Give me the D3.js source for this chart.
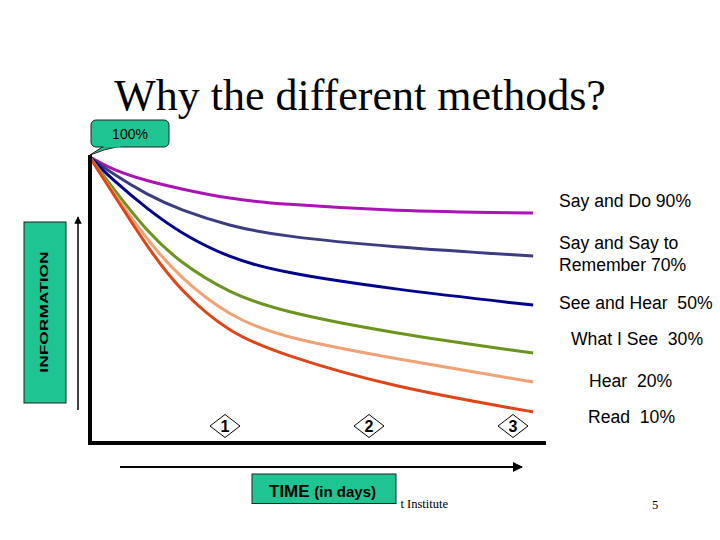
<!DOCTYPE html>
<html>
<head>
<meta charset="utf-8">
<script src="https://cdn.jsdelivr.net/npm/d3@7"></script>
<style>
  body { margin: 0; background: #fff; }
  svg { display: block; }
  text { white-space: pre; }
</style>
</head>
<body>
<div id="chart"></div>
<script>
// Retention curves: time in days, information retained (%)
const days = [0.06, 0.22, 0.46, 0.69, 1.03, 1.38, 2.15, 3.14];

const sayDo       = [99.3, 94.8, 90.9, 88.2, 84.7, 82.9, 80.5, 79.8];
const sayRemember = [99.3, 93.4, 86.1, 80.8, 75.3, 71.8, 67.9, 64.8];
const seeHear     = [99.3, 91.3, 81.2, 72.8, 64.1, 59.2, 53.3, 47.7];
const whatISee    = [99.3, 88.5, 73.2, 62.4, 51.9, 45.6, 38.0, 31.0];
const hear        = [99.3, 87.1, 70.4, 57.1, 43.9, 36.6, 29.3, 20.9];
const read        = [99.3, 86.8, 67.9, 52.6, 38.0, 30.7, 19.2, 10.5];

const seriesValues = [sayDo, sayRemember, seeHear, whatISee, hear, read];
const seriesLabels = [
    ['Say and Do 90%'],
    ['Say and Say to', 'Remember 70%'],
    ['See and Hear  50%'],
    ['What I See  30%'],
    ['Hear  20%'],
    ['Read  10%']
];
const dayTicks = [1, 2, 3];

const colors = ['#aa14b4', '#3c3c80', '#00008c', '#6b9421', '#f0a274', '#de4618'];
const teal = '#1ec592';

const width = 720, height = 540;
const svg = d3.select('#chart').append('svg')
    .attr('width', width)
    .attr('height', height);

const x = d3.scaleLinear().domain([0, 3]).range([81, 513]);
const y = d3.scaleLinear().domain([0, 100]).range([442, 155]);

// Title
svg.append('text')
    .attr('x', 360).attr('y', 110)
    .attr('text-anchor', 'middle')
    .style('font-family', '"Liberation Serif", "Times New Roman", serif')
    .style('font-size', '44px')
    .text('Why the different methods?');

// Curves
const line = d3.line()
    .x((d, i) => x(days[i]))
    .y(d => y(d))
    .curve(d3.curveBasis);

svg.selectAll('path.curve')
    .data(seriesValues)
    .enter()
    .append('path')
    .attr('class', 'curve')
    .attr('d', line)
    .attr('fill', 'none')
    .attr('stroke', (d, i) => colors[i])
    .attr('stroke-width', 3);

// Axes (plain thick lines as in the slide)
svg.append('line')
    .attr('x1', 90).attr('x2', 90)
    .attr('y1', y(100)).attr('y2', y(0) + 3)
    .attr('stroke', '#000').attr('stroke-width', 4);
svg.append('line')
    .attr('x1', 88).attr('x2', 546)
    .attr('y1', y(0) + 1).attr('y2', y(0) + 1)
    .attr('stroke', '#000').attr('stroke-width', 4);

// Day markers
const tick = svg.selectAll('g.day')
    .data(dayTicks)
    .enter()
    .append('g')
    .attr('class', 'day')
    .attr('transform', d => `translate(${x(d)},426)`);
tick.append('path')
    .attr('d', 'M-15,0 L0,-11.5 L15,0 L0,11.5 Z')
    .attr('fill', '#fff')
    .attr('stroke', '#000')
    .attr('stroke-width', 1);
tick.append('text')
    .attr('y', 6)
    .attr('text-anchor', 'middle')
    .style('font-family', '"Liberation Sans", Arial, sans-serif')
    .style('font-weight', 'bold')
    .style('font-size', '16px')
    .text(d => d);

// Series labels
const labelPos = [[559, 207], [559, 249], [559, 309], [571, 345], [589, 387], [588, 423]];
seriesLabels.forEach((lines, i) => {
    const t = svg.append('text')
        .attr('x', labelPos[i][0]).attr('y', labelPos[i][1])
        .style('font-family', '"Liberation Sans", Arial, sans-serif')
        .style('font-size', '17.6px')
        .attr('fill', '#000');
    lines.forEach((s, j) => {
        t.append('tspan')
            .attr('x', labelPos[i][0])
            .attr('dy', j === 0 ? 0 : 22)
            .text(s);
    });
});

// 100% callout
svg.append('path')
    .attr('d', 'M104,146 L90,155 Q104,149 121,146')
    .attr('fill', teal)
    .attr('stroke', '#222')
    .attr('stroke-width', 1);
svg.append('rect')
    .attr('x', 91).attr('y', 120)
    .attr('width', 78).attr('height', 27)
    .attr('rx', 5)
    .attr('fill', teal)
    .attr('stroke', '#222')
    .attr('stroke-width', 1);
svg.append('path')
    .attr('d', 'M103.5,146.5 L120.5,146.5')
    .attr('stroke', teal)
    .attr('stroke-width', 2);
svg.append('text')
    .attr('x', 130).attr('y', 139)
    .attr('text-anchor', 'middle')
    .style('font-family', '"Liberation Sans", Arial, sans-serif')
    .style('font-size', '14px')
    .text('100%');

// Arrow heads
const defs = svg.append('defs');
defs.append('marker')
    .attr('id', 'arrow')
    .attr('viewBox', '0 0 10 10')
    .attr('refX', 9).attr('refY', 5)
    .attr('markerWidth', 5).attr('markerHeight', 5)
    .attr('orient', 'auto')
    .append('path')
    .attr('d', 'M0,0 L10,5 L0,10 Z')
    .attr('fill', '#000');

// INFORMATION axis label
svg.append('line')
    .attr('x1', 78).attr('x2', 78)
    .attr('y1', 410).attr('y2', 217)
    .attr('stroke', '#000').attr('stroke-width', 1.5)
    .attr('marker-end', 'url(#arrow)');
svg.append('rect')
    .attr('x', 24).attr('y', 222)
    .attr('width', 42).attr('height', 181)
    .attr('fill', teal)
    .attr('stroke', '#222').attr('stroke-width', 1);
svg.append('text')
    .attr('transform', 'translate(47.5,312) rotate(-90) scale(1.5,1)')
    .attr('text-anchor', 'middle')
    .style('font-family', '"Liberation Sans", Arial, sans-serif')
    .style('font-weight', 'bold')
    .style('font-size', '11.6px')
    .text('INFORMATION');

// TIME axis label
svg.append('line')
    .attr('x1', 120).attr('x2', 522)
    .attr('y1', 467).attr('y2', 467)
    .attr('stroke', '#000').attr('stroke-width', 2)
    .attr('marker-end', 'url(#arrow)');

// Footer (the rest of this line sits under the TIME box)
svg.append('text')
    .attr('x', 448).attr('y', 508)
    .attr('text-anchor', 'end')
    .style('font-family', '"Liberation Serif", "Times New Roman", serif')
    .style('font-size', '12.5px')
    .text('t Institute');
svg.append('text')
    .attr('x', 655).attr('y', 509)
    .attr('text-anchor', 'middle')
    .style('font-family', '"Liberation Serif", "Times New Roman", serif')
    .style('font-size', '12.5px')
    .text('5');

svg.append('rect')
    .attr('x', 252).attr('y', 474)
    .attr('width', 144).attr('height', 29.5)
    .attr('fill', teal)
    .attr('stroke', '#222').attr('stroke-width', 1);
const timeText = svg.append('text')
    .attr('x', 269).attr('y', 497)
    .style('font-family', '"Liberation Sans", Arial, sans-serif')
    .style('font-weight', 'bold');
timeText.append('tspan').style('font-size', '17px').text('TIME ');
timeText.append('tspan').style('font-size', '15px').text('(in days)');
</script>
</body>
</html>
